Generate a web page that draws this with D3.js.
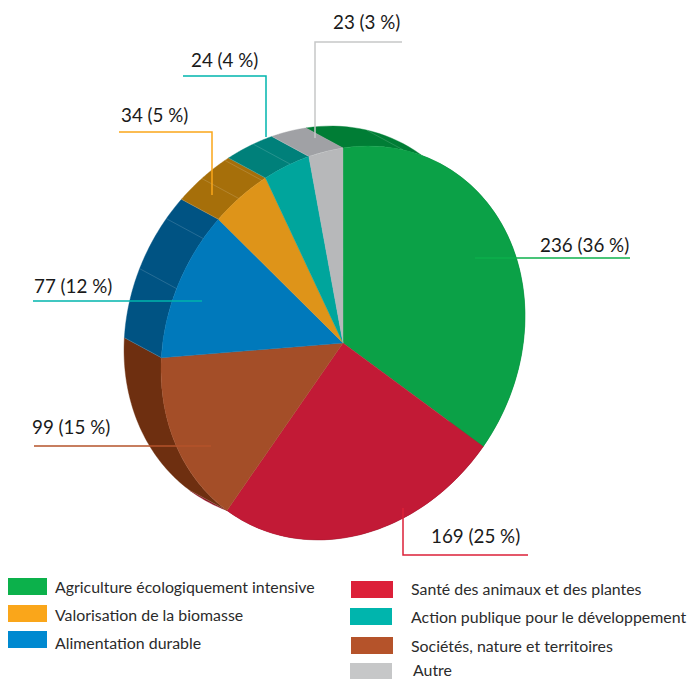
<!DOCTYPE html>
<html>
<head>
<meta charset="utf-8">
<script src="https://cdn.jsdelivr.net/npm/d3@7"></script>
<style>
  html, body { margin: 0; background: #fff; }
  svg { display: block; font-family: Lato, sans-serif; }
</style>
</head>
<body>
<script>
// Values, in drawing order (clockwise, starting with the green slice)
var categories = ["Agriculture écologiquement intensive", "Santé des animaux et des plantes",
  "Sociétés, nature et territoires", "Alimentation durable", "Valorisation de la biomasse",
  "Action publique pour le développement", "Autre"];
var values = [236, 169, 99, 77, 34, 24, 23];
var percents = [36, 25, 15, 12, 5, 4, 3];

// Colours
var faceColors = ["#0ba147", "#c21a36", "#a44e28", "#0079bb", "#de9419", "#00a59c", "#b7b8ba"];
var wallColors = ["#007d35", "#8f1226", "#6e2f10", "#005383", "#a66f0a", "#00807a", "#a0a1a5"];
var legendColors = ["#0cb14b", "#dc2039", "#b5532a", "#0089d0", "#faa61a", "#00b5ad", "#c6c7c8"];
var leaderColors = ["#0cb14b", "#dc2039", "#b5532a", "#00b5ad", "#faa61a", "#00b5ad", "#c6c7c8"];

// Where the thin lines fall on the walls, as a fraction of the slice
var wallDividers = [[0.15], [], [], [0.47, 0.84], [0.46, 0.93], [0.58], []];

// Layout of the labels and legend
var leaderPaths = [
  [[475, 258], [630, 258]],
  [[403, 508], [403, 555], [528, 555]],
  [[34, 446], [211, 446]],
  [[33, 301], [202, 301]],
  [[119, 132], [212, 132], [212, 195]],
  [[183, 76], [266, 76], [266, 137]],
  [[402, 42], [315, 42], [315, 138]]
];
var labelPositions = [[540, 252], [431, 543], [32, 434], [34, 293], [121, 122], [191, 67], [333, 29]];
var legendRows = [
  { i: 0, x: 8, y: 578, w: 39, tx: 55, ty: 593 },
  { i: 4, x: 8, y: 605, w: 39, tx: 55, ty: 621 },
  { i: 3, x: 8, y: 631, w: 39, tx: 55, ty: 649 },
  { i: 1, x: 351, y: 581, w: 42, tx: 411, ty: 595 },
  { i: 5, x: 350, y: 608, w: 42, tx: 411, ty: 623 },
  { i: 2, x: 351, y: 637, w: 42, tx: 411, ty: 652 },
  { i: 6, x: 350, y: 663, w: 42, tx: 413, ty: 676 }
];

var width = 688, height = 679;
var center = [343, 343];
var radii = [174, 204];        // the disc is an ellipse, tilted by tilt degrees
var tilt = 30;
var shift = [-37, -20];        // how far the back of the disc sits from the face
var start = -34.1 * Math.PI / 180;

var svg = d3.select("body").append("svg")
    .attr("width", width)
    .attr("height", height);

// The slices follow the rounded percentages, as in the original
var slices = d3.pie().sort(null).startAngle(start).endAngle(start + 2 * Math.PI)(percents);

// Angle on the disc -> point on the page
var cosT = Math.cos(tilt * Math.PI / 180), sinT = Math.sin(tilt * Math.PI / 180);
function project(a) {
  var x = radii[0] * Math.sin(a), y = -radii[1] * Math.cos(a);
  return [center[0] + x * cosT - y * sinT, center[1] + x * sinT + y * cosT];
}
var line = d3.line();

function wallPath(d) {
  var scale = d3.scaleLinear().domain([0, 60]).range([d.startAngle, d.endAngle]);
  var front = d3.range(61).map(function(k) { return project(scale(k)); });
  var back = front.slice().reverse().map(function(p) { return [p[0] + shift[0], p[1] + shift[1]]; });
  return line(front.concat(back)) + "Z";
}

// Walls first, the face goes over them
var walls = svg.append("g");
walls.selectAll("path")
    .data(slices)
    .enter().append("path")
    .attr("d", wallPath)
    .attr("fill", function(d, i) { return wallColors[i]; })
    .attr("stroke", function(d, i) { return wallColors[i]; })
    .attr("stroke-width", 0.4);

// Thin lines across the walls
slices.forEach(function(d, i) {
  var edges = [d.startAngle].concat(wallDividers[i].map(function(f) {
    return d.startAngle + f * (d.endAngle - d.startAngle);
  }));
  if (i == 0 || i == 1) edges.shift();
  edges.forEach(function(a) {
    var p = project(a);
    walls.append("path")
        .attr("d", line([p, [p[0] + shift[0], p[1] + shift[1]]]))
        .attr("stroke", "#fff")
        .attr("stroke-opacity", 0.25)
        .attr("stroke-width", 0.6);
  });
});

// Face of the pie
var arc = d3.arc().innerRadius(0).outerRadius(1);
svg.append("g")
    .attr("transform", "translate(" + center + ") rotate(" + tilt + ") scale(" + radii + ")")
  .selectAll("path")
    .data(slices)
    .enter().append("path")
    .attr("d", arc)
    .attr("fill", function(d, i) { return faceColors[i]; })
    .attr("stroke", function(d, i) { return faceColors[i]; })
    .attr("stroke-width", 0.4)
    .attr("vector-effect", "non-scaling-stroke");

// Leader lines
svg.append("g").selectAll("path")
    .data(leaderPaths)
    .enter().append("path")
    .attr("d", function(d) { return line(d); })
    .attr("fill", "none")
    .attr("stroke", function(d, i) { return leaderColors[i]; })
    .attr("stroke-width", 1.5);

// Value labels
svg.append("g").selectAll("text")
    .data(values)
    .enter().append("text")
    .attr("x", function(d, i) { return labelPositions[i][0]; })
    .attr("y", function(d, i) { return labelPositions[i][1]; })
    .attr("font-size", 18.8)
    .attr("fill", "#1a1a1a")
    .text(function(d, i) { return d + " (" + percents[i] + " %)"; });

// Legend
var legend = svg.append("g").selectAll("g")
    .data(legendRows)
    .enter().append("g");
legend.append("rect")
    .attr("x", function(d) { return d.x; })
    .attr("y", function(d) { return d.y; })
    .attr("width", function(d) { return d.w; })
    .attr("height", 17)
    .attr("fill", function(d) { return legendColors[d.i]; });
legend.append("text")
    .attr("x", function(d) { return d.tx; })
    .attr("y", function(d) { return d.ty; })
    .attr("font-size", 15.9)
    .attr("fill", "#2b2b2b")
    .text(function(d) { return categories[d.i]; });
</script>
</body>
</html>
